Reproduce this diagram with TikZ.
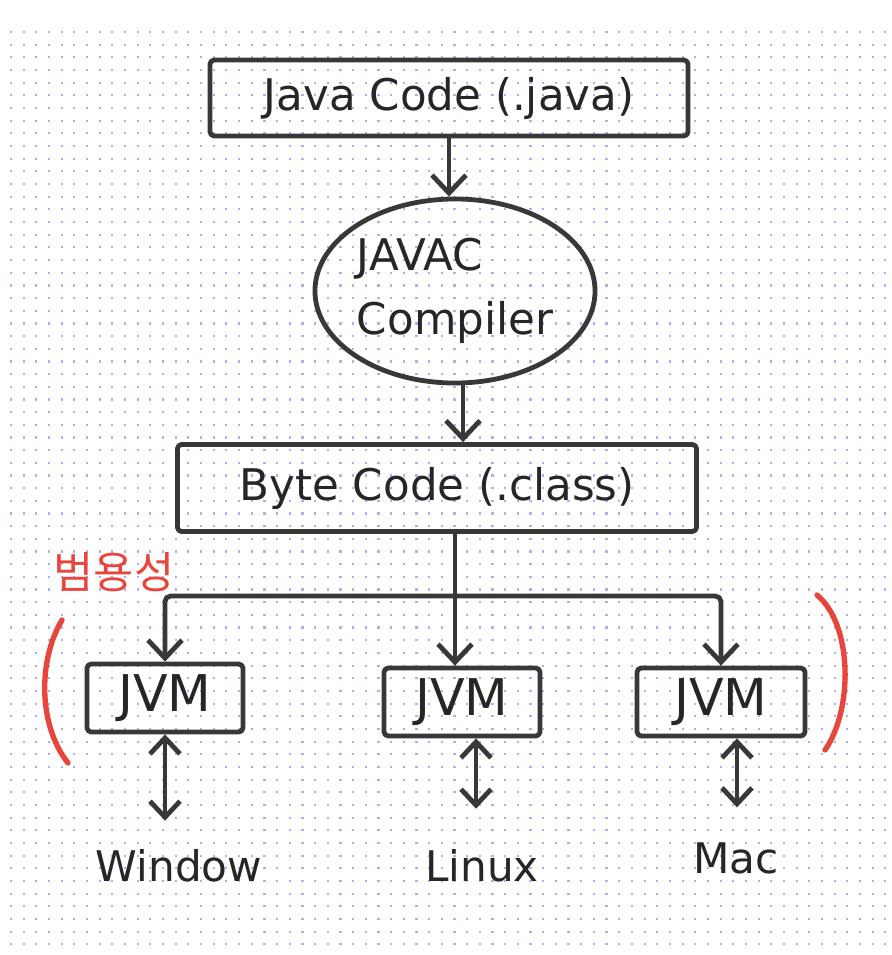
\documentclass[tikz,border=0pt]{standalone}
\usepackage{fontspec}
\setmainfont{DejaVu Sans}
\newfontfamily\krfont{Noto Sans CJK KR}
\usetikzlibrary{arrows.meta,shapes.geometric}
\definecolor{pencil}{HTML}{383838}
\definecolor{ink}{HTML}{262626}
\definecolor{gridblue}{HTML}{AEAEF3}
\definecolor{marker}{HTML}{E8453C}
\begin{document}
\begin{tikzpicture}[x=0.025cm, y=-0.025cm, line join=round, line cap=round,
  box/.style={draw=pencil, line width=3.4pt, rounded corners=3pt, text=ink, font=\fontsize{31}{38}\selectfont, inner sep=0pt},
  jvm/.style={box, minimum width=3.9cm, minimum height=1.7cm, font=\fontsize{36}{40}\selectfont},
  wire/.style={draw=pencil, line width=3.4pt},
  arr/.style={wire, -{Straight Barb[length=4.5mm,width=8.5mm]}},
  dbl/.style={wire, {Straight Barb[length=4mm,width=7.5mm]}-{Straight Barb[length=4mm,width=7.5mm]}},
  os/.style={text=ink, font=\fontsize{30}{36}\selectfont},
  paren/.style={draw=marker, line width=3.8pt}]
\fill[white] (0,0) rectangle (892,955);
\useasboundingbox (0,0) rectangle (892,955);
% dotted paper
\foreach \i in {0,...,69} \foreach \j in {0,...,72}
  \fill[gridblue] ({10+12.67*\i},{31+12.67*\j}) rectangle ++(2.1,2.1);

\node[box, minimum width=11.95cm, minimum height=1.9cm] (java) at (449,98) {Java Code (.java)};
\node[box, ellipse, minimum width=7cm, minimum height=4.6cm, align=left, font=\fontsize{31}{46}\selectfont] (javac) at (455,291) {JAVAC\\Compiler};
\node[box, minimum width=12.975cm, minimum height=2.175cm] (byte) at (437,488) {Byte Code (.class)};
\node[jvm] (jvmL) at (165,698) {JVM};
\node[jvm] (jvmM) at (462,702) {JVM};
\node[jvm, minimum width=4.2cm] (jvmR) at (721,702) {JVM};
\node[os] (win) at (179,866) {Window};
\node[os] (lin) at (482,866) {Linux};
\node[os] (mac) at (736,858) {Mac};
\node[text=marker, font=\krfont\fontsize{31}{34}\selectfont] (yong) at (114,572) {범용성};

\draw[arr] (java.south) -- (java.south |- javac.north);
\draw[arr] ([xshift=0.2cm]javac.south) -- ([xshift=0.2cm]javac.south |- byte.north);
\coordinate (split) at (455,596);
\draw[wire] (split |- byte.south) -- (split);
\draw[arr, rounded corners=4pt] (split) -| (jvmL.north);
\draw[arr, rounded corners=4pt] (split) -| (jvmR.north);
\draw[arr] (split) -- (split |- jvmM.north);

\draw[dbl, shorten >=0.6cm] (jvmL.south) -- (jvmL.south |- win.north);
\draw[dbl, shorten >=0.9cm] ([xshift=0.35cm]jvmM.south) -- ([xshift=0.35cm]jvmM.south |- lin.north);
\draw[dbl, shorten >=0.75cm] ([xshift=0.4cm]jvmR.south) -- ([xshift=0.4cm]jvmR.south |- mac.north);

\draw[paren] (62,620) .. controls (38,660) and (38,725) .. (68,763);
\draw[paren] (817,595) .. controls (853,625) and (853,710) .. (825,750);
\end{tikzpicture}
\end{document}
